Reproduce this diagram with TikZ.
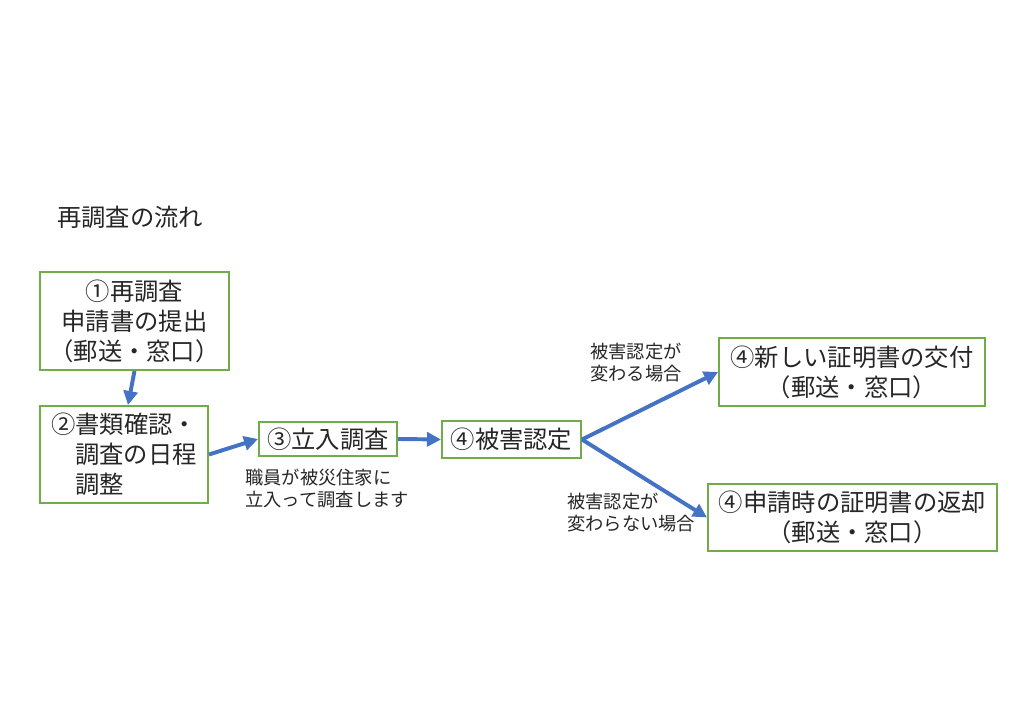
\documentclass[tikz,border=0pt]{standalone}
\usepackage{fontspec}
\setmainfont{Noto Sans CJK JP}
\usepackage{tikz}
\usetikzlibrary{arrows.meta, positioning}
\usepackage{xcolor}
\definecolor{boxgreen}{HTML}{70AD47}
\definecolor{arrowblue}{HTML}{4472C4}

\begin{document}
\begin{tikzpicture}[
		box/.style={
			draw=boxgreen,
			line width=1.4pt,
			align=center,
			inner sep=0pt,
			text=black!85,
			font=\fontsize{17.3}{21.3}\selectfont
		},
		note/.style={
			anchor=west,
			align=left,
			inner sep=0pt,
			text=black!85,
			font=\fontsize{13}{15.6}\selectfont
		},
		arrow/.style={
			-{Triangle[length=3.5mm,width=3.5mm]},
			line width=2.8pt,
			draw=arrowblue
		}
		]
		\useasboundingbox (0,0) rectangle (25.6,18.1);
		
		% Titel
		\node[note, font=\fontsize{17.3}{21.3}\selectfont] (titel) at (1.425,12.675) {再調査の流れ};
		
		% Ablauf
		\node[box, minimum width=4.725cm, minimum height=2.45cm] (antrag) at (3.3625,10.075) {①再調査\\申請書の提出\\（郵送・窓口）};
		\node[box, align=left, minimum width=4.2cm, minimum height=2.425cm] (termin) at (3.1,6.7375) {②書類確認・\\\phantom{②}調査の日程\\\phantom{②}調整};
		\node[box, minimum width=3.45cm, minimum height=0.85cm] (vorort) at (8.2,7.125) {③立入調査};
		\node[box, minimum width=3.475cm, minimum height=0.925cm] (schaden) at (12.7875,7.1125) {④被害認定};
		
		% Ergebnisse
		\node[box, minimum width=6.65cm, minimum height=1.7cm] (neu) at (21.3,8.8) {④新しい証明書の交付\\（郵送・窓口）};
		\node[box, minimum width=7.225cm, minimum height=1.675cm] (rueck) at (21.3125,5.1625) {④申請時の証明書の返却\\（郵送・窓口）};
		
		% Hinweise
		\node[note] (besuch) at (6.125,5.875) {職員が被災住家に\\立入って調査します};
		\node[note] (anders) at (14.75,9.025) {被害認定が\\変わる場合};
		\node[note] (gleich) at (14.175,5.275) {被害認定が\\変わらない場合};
		
		% Verbindungen
		\draw[arrow] (antrag.south) -- ([xshift=1mm]termin.north);
		\draw[arrow] (termin.east) -- (vorort.west);
		\draw[arrow] (vorort.east) -- (schaden.west);
		\draw[arrow] (schaden.east) -- (neu.west);
		\draw[arrow] (schaden.east) -- (rueck.west);
		
	\end{tikzpicture}
\end{document}
